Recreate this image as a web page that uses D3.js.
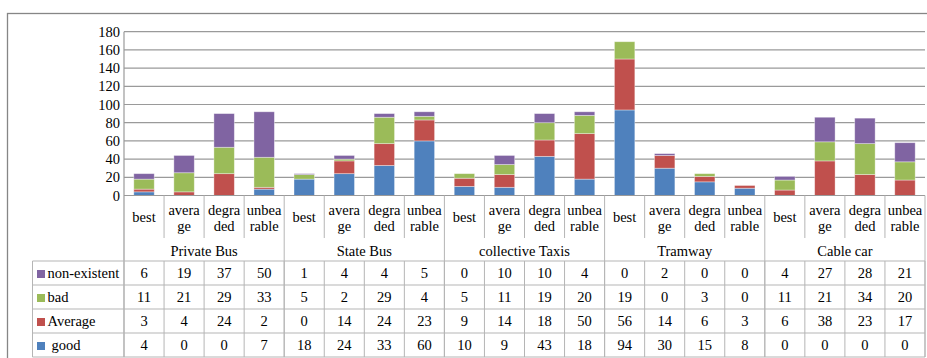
<!DOCTYPE html>
<html><head><meta charset="utf-8">
<script src="https://cdn.jsdelivr.net/npm/d3@7"></script>
<style>body{margin:0;background:#fff}svg{display:block}</style>
</head><body><svg id="c" width="927" height="358"></svg>
<script>
const groups = ["Private Bus","State Bus","collective Taxis","Tramway","Cable car"];
const levels = ["best","average","degraded","unbearable"];
const levelLines = [["best"],["avera","ge"],["degra","ded"],["unbea","rable"]];
const seriesNames = ["good","Average","bad","non-existent"];
const good        = [4,0,0,7, 18,24,33,60, 10,9,43,18, 94,30,15,8, 0,0,0,0];
const average     = [3,4,24,2, 0,14,24,23, 9,14,18,50, 56,14,6,3, 6,38,23,17];
const bad         = [11,21,29,33, 5,2,29,4, 5,11,19,20, 19,0,3,0, 11,21,34,20];
const nonExistent = [6,19,37,50, 1,4,4,5, 0,10,10,4, 0,2,0,0, 4,27,28,21];
const yTicks = [0,20,40,60,80,100,120,140,160,180];
const colors = ["#4F81BD","#C0504D","#9BBB59","#8064A2"];

const FONTS = ["Liberation Serif","Times New Roman","Tinos","DejaVu Serif","Noto Serif","serif"];
const svg = d3.select("#c");
const L = 124, R = 925, T = 31.7, B = 195.5;
const cats = d3.range(groups.length*levels.length);
const x = d3.scaleBand().domain(cats).range([L,R]).paddingInner(0.49).paddingOuter(0.245);
const y = d3.scaleLinear().domain([0,180]).range([B,T]);
const step = x.step();
const bx = i => L + i*step; // boundary

function txt(g, xx, yy, s, anchor){
  const t = g.append("text").attr("x",xx).attr("y",yy).attr("text-anchor",anchor||"middle")
    .attr("font-size",14.5).attr("fill","#000").text(s);
  t.node().style.fontFamily = FONTS.map(f=>f==="serif"?f:'"'+f+'"').join(", ");
  return t;
}

// frame
svg.append("rect").attr("x",7.5).attr("y",13.5).attr("width",940).attr("height",360)
  .attr("fill","none").attr("stroke","#868686").attr("stroke-width",1.3);

// gridlines
svg.append("g").selectAll("line").data(yTicks.filter(d=>d>0)).join("line")
  .attr("x1",L).attr("x2",R).attr("y1",d=>y(d)).attr("y2",d=>y(d))
  .attr("stroke","#9a9a9a").attr("stroke-width",1.2);

// y axis labels
const yl = svg.append("g");
yTicks.forEach(d=>txt(yl,120,y(d)+5,d,"end"));

// stacked bars
const rows = cats.map(i=>({i, good:good[i], average:average[i], bad:bad[i], non:nonExistent[i]}));
const stack = d3.stack().keys(["good","average","bad","non"])(rows);
svg.append("g").selectAll("g").data(stack).join("g").attr("fill",(d,k)=>colors[k])
  .selectAll("rect").data(d=>d).join("rect")
  .attr("x",d=>x(d.data.i)).attr("width",x.bandwidth())
  .attr("y",d=>y(d[1])).attr("height",d=>y(d[0])-y(d[1]))
  .attr("stroke","#fff").attr("stroke-opacity",0.45).attr("stroke-width",0.8);

// axes lines
svg.append("line").attr("x1",L).attr("x2",R).attr("y1",B).attr("y2",B).attr("stroke","#9a9a9a").attr("stroke-width",1.2);
svg.append("line").attr("x1",L).attr("x2",L).attr("y1",T).attr("y2",357).attr("stroke","#9a9a9a").attr("stroke-width",1.2);

const tableStroke = "#b5b5b5";
// category separators
const seps = d3.range(1, cats.length+1);
svg.append("g").selectAll("line").data(seps).join("line")
  .attr("x1",i=>bx(i)).attr("x2",i=>bx(i)).attr("y1",B)
  .attr("y2",i=> i%levels.length===0 ? 357 : 238)
  .attr("stroke",tableStroke).attr("stroke-width",1);
svg.append("g").selectAll("line").data(seps).join("line")
  .attr("x1",i=>bx(i)).attr("x2",i=>bx(i)).attr("y1",261).attr("y2",357)
  .attr("stroke",tableStroke).attr("stroke-width",1);

// category labels
const lab = svg.append("g");
cats.forEach(i=>{
  const lines = levelLines[i%levels.length];
  const cx = x(i)+x.bandwidth()/2;
  if(lines.length===1){
    txt(lab,cx,222,lines[0]);
  } else {
    lines.forEach((t,j)=>txt(lab,cx,215+16*j,t));
  }
});
// group labels
groups.forEach((g,k)=>{
  txt(lab, bx(k*levels.length)+step*levels.length/2, 256, g);
});

// data table
const rowTops = [261,285,309,333,357];
const tableSeries = [nonExistent, bad, average, good];
const tableNames = ["non-existent","bad","Average","good"];
const tableColors = [colors[3],colors[2],colors[1],colors[0]];
svg.append("g").selectAll("line").data(rowTops).join("line")
  .attr("x1",32.5).attr("x2",R).attr("y1",d=>d).attr("y2",d=>d)
  .attr("stroke",tableStroke).attr("stroke-width",1);
svg.append("line").attr("x1",32.5).attr("x2",32.5).attr("y1",261).attr("y2",357).attr("stroke",tableStroke);
const tb = svg.append("g");
tableSeries.forEach((arr,r)=>{
  const top = rowTops[r];
  tb.append("rect").attr("x",37).attr("y",top+9).attr("width",8).attr("height",8).attr("fill",tableColors[r]);
  txt(tb, r===3 ? 51.5 : 47.5, top+17, tableNames[r], "start");
  arr.forEach((v,i)=>txt(tb, x(i)+x.bandwidth()/2, top+17, v));
});
</script></body></html>
